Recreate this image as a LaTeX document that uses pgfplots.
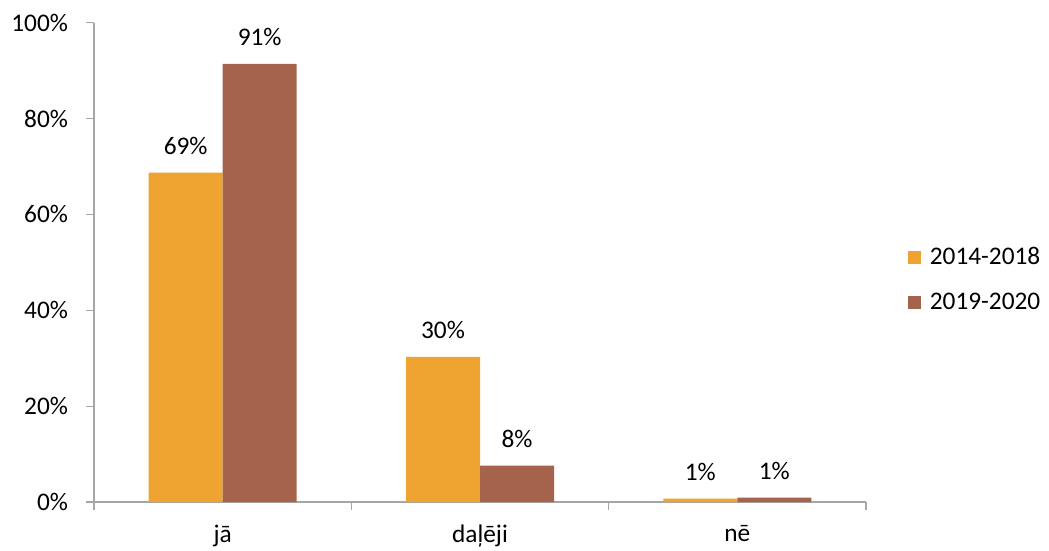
\documentclass[border=0pt]{standalone}
\usepackage{pgfplots}
\pgfplotsset{compat=1.18}
\usepackage{fontspec}
\setmainfont{Carlito}
\definecolor{cOrange}{HTML}{EFA431}
\definecolor{cBrown}{HTML}{A5634B}
\definecolor{axgray}{HTML}{A6A6A6}
\begin{document}
\fontsize{19}{23}\selectfont
\begin{tikzpicture}
\path[use as bounding box] (-70.5pt,-36pt) rectangle (716.25pt,376.5pt);
\begin{axis}[
  at={(0,0)}, anchor=south west,
  scale only axis,
  width=579pt, height=359.5pt,
  ybar=0pt, bar width=55.5pt,
  xmin=-0.5, xmax=2.5, ymin=0, ymax=100,
  axis lines*=left,
  axis line style={axgray, line width=0.9pt},
  xtick={0,1,2}, xticklabels={jā, daļēji, nē},
  major x tick style={draw=none},
  minor xtick={-0.5,0.5,1.5,2.5},
  minor x tick style={axgray, line width=0.9pt},
  minor tick length=6pt,
  ytick={0,20,40,60,80,100},
  y tick style={axgray, line width=0.9pt},
  major tick length=6pt,
  tick align=outside,
  /pgf/number format/assume math mode=true,
  yticklabel={\pgfmathprintnumber{\tick}\%},
  yticklabel style={xshift=-7pt},
  xticklabel style={yshift=-5pt},
  tick label style={font=\fontsize{19}{23}\selectfont},
  nodes near coords={\pgfmathprintnumber[fixed,precision=0]{\pgfplotspointmeta}\%},
  nodes near coords style={font=\fontsize{19}{23}\selectfont, anchor=south, yshift=7pt, black},
  legend style={at={(1.049,0.463)}, anchor=west, draw=none, fill=none,
    font=\fontsize{19}{23}\selectfont, row sep=14.5pt,
    /tikz/every odd column/.append style={column sep=4.5pt}},
  legend cell align=left,
  legend image code/.code={\fill[#1] (0pt,-4.9pt) rectangle (9.8pt,4.9pt);},
]
\addplot[fill=cOrange, draw=none] coordinates {(0,68.7) (1,30.3) (2,0.7)};
\addplot[fill=cBrown, draw=none] coordinates {(0,91.4) (1,7.6) (2,0.9)};
\legend{2014-2018, 2019-2020}
\end{axis}
\end{tikzpicture}
\end{document}
